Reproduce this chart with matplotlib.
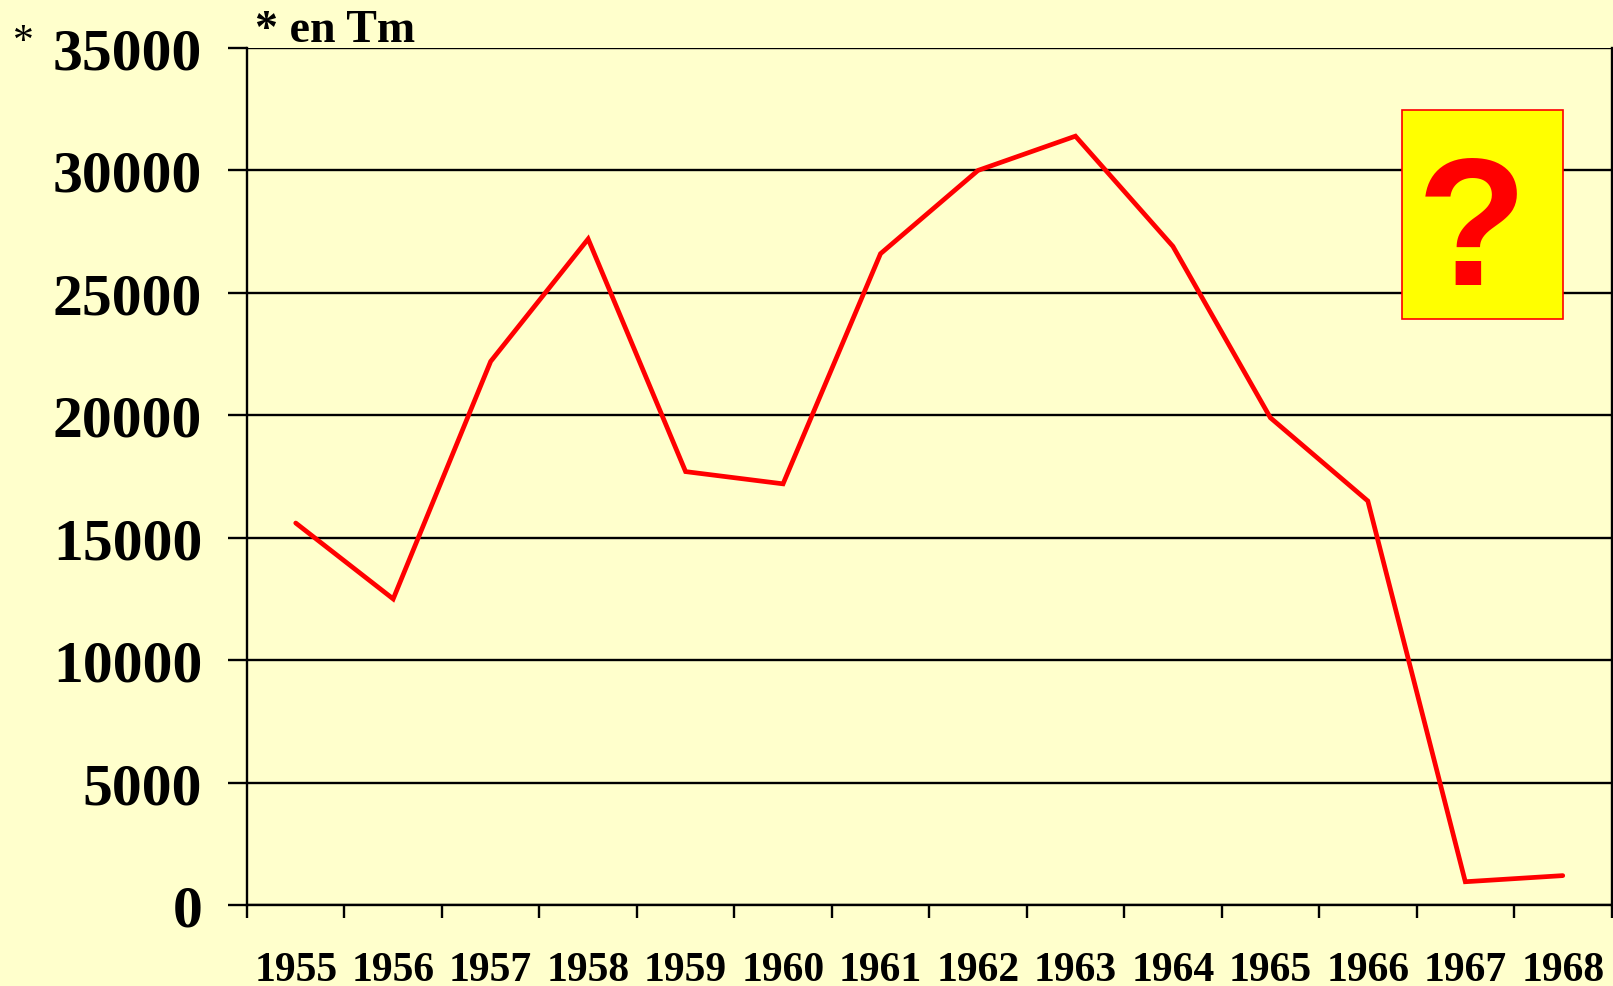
import matplotlib
matplotlib.use("Agg")
import matplotlib.pyplot as plt
from matplotlib.patches import Rectangle
import numpy as np

years = ["1955", "1956", "1957", "1958", "1959", "1960", "1961",
         "1962", "1963", "1964", "1965", "1966", "1967", "1968"]
values = [15600, 12500, 22200, 27200, 17700, 17200, 26600,
          30000, 31400, 26900, 19900, 16500, 950, 1200]
yticks = [0, 5000, 10000, 15000, 20000, 25000, 30000, 35000]

BG = "#FFFFCC"
serif = ["Liberation Serif", "DejaVu Serif"]

fig = plt.figure(figsize=(16.13, 9.87), dpi=100, facecolor=BG)
ax = fig.add_axes([247/1613, 1-906/987, 1364.5/1613, 857/987])
ax.set_facecolor(BG)

x = np.arange(len(years))
ax.plot(x, values, color="#FF0000", lw=3.4, solid_capstyle="round",
        solid_joinstyle="miter", zorder=3)

ax.set_xlim(-0.5, len(years) - 0.5)
ax.set_ylim(0, 35000)

# y axis
ax.set_yticks(yticks)
ax.set_yticklabels([str(v) for v in yticks], fontfamily=serif,
                   fontweight="bold", fontsize=43)
ax.tick_params(axis="y", length=13.7, width=1.7, pad=18.5, color="black")
ax.yaxis.grid(True, color="black", lw=1.7, zorder=1)
ax.set_axisbelow(True)

# x axis: ticks at boundaries, labels at centres
ax.set_xticks(np.arange(-0.5, len(years), 1.0))
ax.set_xticklabels([])
ax.set_xticks(x, minor=True)
ax.set_xticklabels(years, minor=True, fontfamily=serif,
                   fontweight="bold", fontsize=30)
ax.tick_params(axis="x", which="major", length=9.4, width=1.7, color="black")
ax.tick_params(axis="x", which="minor", length=0, pad=33)

for s in ["left", "bottom", "right"]:
    ax.spines[s].set_linewidth(1.7)
    ax.spines[s].set_color("black")
ax.spines["top"].set_visible(False)

# question box
ax.add_patch(Rectangle((0.8462, 0.6838), 0.9642 - 0.8462, 0.928 - 0.6838,
                       transform=ax.transAxes, facecolor="#FFFF00",
                       edgecolor="#FF0000", lw=1.2, zorder=4, clip_on=False))
ax.text(0.8974, 0.7246, "?", transform=ax.transAxes, ha="center",
        va="baseline", color="#FF0000", fontsize=130, fontweight="bold",
        fontfamily=["Liberation Sans", "DejaVu Sans"], zorder=5)

# annotations
fig.text(255/1613, 1-42/987, "* en Tm", ha="left", va="baseline",
         fontfamily=serif, fontweight="bold", fontsize=33)
fig.text(13/1613, 1-53/987, "*", ha="left", va="baseline",
         fontfamily=serif, fontsize=30)

fig.savefig("out.png", dpi=100, facecolor=BG)
